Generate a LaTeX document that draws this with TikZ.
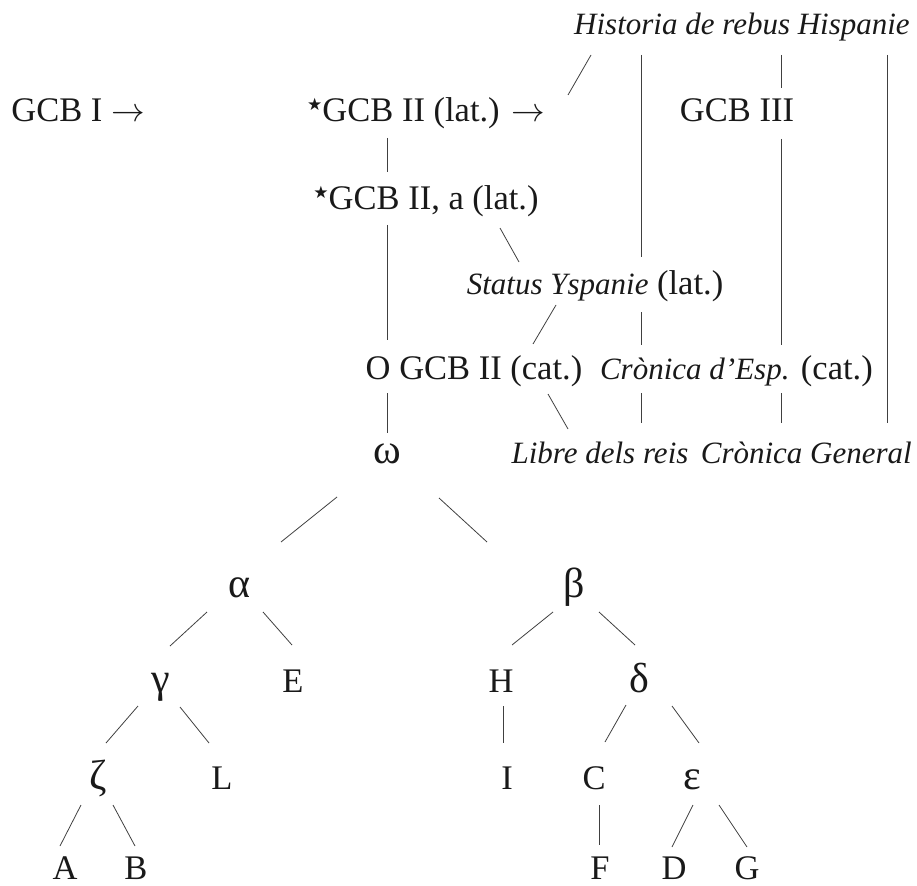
\documentclass[tikz,border=0pt]{standalone}
\usepackage{fontspec}
\usepackage{graphicx}
\setmainfont{Liberation Serif}
\newfontfamily\symf{DejaVu Sans}
\usetikzlibrary{calc}
\newcommand\lnk[4]{\draw[link] ($(#1)+(#2)$) -- ($(#3)+(#4)$);}
\newcommand\ital[1]{{\fontsize{31}{37}\selectfont\itshape #1}}
\newcommand\stara{\raisebox{11pt}{\symf\fontsize{17}{17}\selectfont ★}}
\newcommand\arr{\scalebox{1.35}{$\rightarrow$}}
\begin{document}
\begin{tikzpicture}[x=1pt,y=-1pt,
  every node/.style={anchor=base, inner sep=0pt, text=black!90, font=\fontsize{34.5}{40}\selectfont},
  greek/.style={font=\fontsize{42}{46}\selectfont},
  link/.style={line width=0.8pt, black!75}]
\useasboundingbox (0,0) rectangle (917,885);
% upper part
\node (hist)    at (742,35)  {\ital{Historia de rebus Hispanie}};
\node (gcb1)    at (78,122)  {GCB I \arr};
\node (gcb2)    at (426,122) {\stara GCB II (lat.) \arr};
\node (gcb3)    at (737,122) {GCB III};
\node (gcb2a)   at (426,210) {\stara GCB II, a (lat.)};
\node (status)  at (595,294) {\ital{Status Yspanie} (lat.)};
\node (ogcb)    at (474,379) {O GCB II (cat.)};
\node[anchor=base east] (cronesp) at (873,379) {\ital{Crònica d’Esp.} (cat.)};
\node[greek] (omega) at (387,463) {ω};
\node (libre)   at (600,463) {\ital{Libre dels reis}};
\node[anchor=base east] (crongen) at (912,463) {\ital{Crònica General}};
% tree
\node[greek] (alpha) at (239,597) {α};
\node[greek] (beta)  at (574,597) {β};
\node[greek] (gamma) at (161,692) {γ};
\node (E)     at (293,692) {E};
\node (H)     at (501,692) {H};
\node[greek] (delta) at (639,692) {δ};
\node[greek] (zeta)  at (98,789)  {ζ};
\node (L)     at (222,789) {L};
\node (I)     at (507,789) {I};
\node (C)     at (594,789) {C};
\node[greek] (eps)   at (692,789) {ε};
\node (A)     at (65,879)  {A};
\node (B)     at (136,879) {B};
\node (F)     at (600,879) {F};
\node (D)     at (674,879) {D};
\node (G)     at (747,879) {G};
% connectors
\lnk{hist.base}{-151,20}{gcb2.base}{142,-27}
\lnk{hist.base}{-101,20}{status.base}{46,-37}
\lnk{hist.base}{39,20}{gcb3.base}{44,-34}
\lnk{hist.base}{145,20}{crongen.base east}{-25,-40}
\lnk{gcb2.base}{-39,16}{gcb2a.base}{-39,-38}
\lnk{gcb2a.base}{-39,15}{ogcb.base}{-87,-39}
\lnk{gcb2a.base}{74,18}{status.base}{-76,-32}
\lnk{gcb3.base}{44,17}{cronesp.base east}{-92,-34}
\lnk{status.base}{-39,11}{ogcb.base}{59,-35}
\lnk{status.base}{46,18}{cronesp.base east}{-232,-34}
\lnk{ogcb.base}{-87,14}{omega.base}{0,-30}
\lnk{ogcb.base}{74,15}{libre.base}{-32,-34}
\lnk{cronesp.base east}{-232,14}{libre.base}{41,-40}
\lnk{cronesp.base east}{-92,14}{crongen.base east}{-131,-40}
\lnk{omega.base}{-50,34}{alpha.base}{42,-55}
\lnk{omega.base}{52,35}{beta.base}{-87,-55}
\lnk{alpha.base}{-32,15}{gamma.base}{9,-46}
\lnk{alpha.base}{24,15}{E.base}{-1,-47}
\lnk{beta.base}{-21,15}{H.base}{11,-47}
\lnk{beta.base}{25,15}{delta.base}{-4,-47}
\lnk{gamma.base}{-23,14}{zeta.base}{8,-46}
\lnk{gamma.base}{19,15}{L.base}{-13,-46}
\lnk{H.base}{2,14}{I.base}{-4,-46}
\lnk{delta.base}{-13,13}{C.base}{11,-47}
\lnk{delta.base}{33,14}{eps.base}{7,-46}
\lnk{zeta.base}{-17,16}{A.base}{-5,-33}
\lnk{zeta.base}{15,16}{B.base}{-1,-33}
\lnk{C.base}{5,16}{F.base}{-1,-34}
\lnk{eps.base}{1,16}{D.base}{-2,-32}
\lnk{eps.base}{27,16}{G.base}{0,-32}
\end{tikzpicture}
\end{document}
